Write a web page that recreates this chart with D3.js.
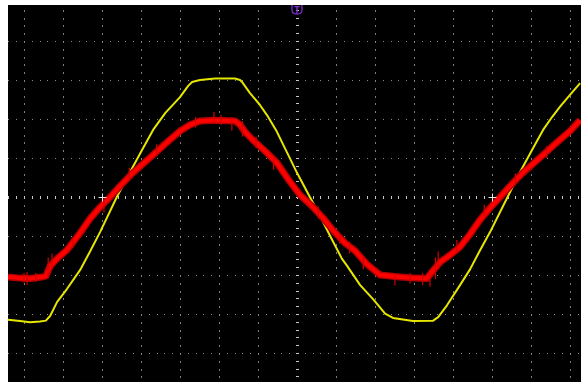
<!DOCTYPE html>
<html>
<head>
<meta charset="utf-8">
<script src="https://cdn.jsdelivr.net/npm/d3@7"></script>
<style>
  html, body { margin: 0; padding: 0; background: #fff; }
  svg { display: block; }
</style>
</head>
<body>
<div id="chart"></div>
<script>
// time in divisions from centre, voltage in divisions from centre
var yellowT = [-7.41, -7.10, -6.85, -6.59, -6.44, -6.33, -6.15, -5.90, -5.56, -5.33, -5.05, -4.62,
  -4.28, -3.97, -3.69, -3.38, -3.00, -2.79, -2.69, -2.49, -2.10, -1.59, -1.46, -1.41, -1.21, -0.95,
  -0.77, -0.54, -0.26, 0.00, 0.33, 0.51, 0.85, 1.15, 1.28, 1.62, 1.95, 2.26, 2.46, 2.97, 3.49, 3.62,
  3.85, 4.18, 4.44, 4.67, 4.95, 5.40, 5.72, 6.03, 6.31, 6.54, 6.74, 7.00, 7.26];
var yellowV = [-3.15, -3.18, -3.21, -3.19, -3.17, -3.05, -2.69, -2.36, -1.87, -1.44, -0.90, 0.00,
  0.64, 1.21, 1.72, 2.15, 2.56, 2.85, 2.95, 3.00, 3.04, 3.04, 3.00, 2.95, 2.67, 2.36,
  2.10, 1.72, 1.15, 0.62, 0.00, -0.33, -1.00, -1.58, -1.76, -2.26, -2.62, -2.99, -3.10, -3.18, -3.17, -3.08,
  -2.77, -2.26, -1.85, -1.41, -0.90, 0.00, 0.64, 1.21, 1.72, 2.05, 2.31, 2.62, 2.92];

var redT = [-7.41, -7.10, -6.85, -6.59, -6.44, -6.33, -6.13, -5.90, -5.56, -5.31, -5.05, -4.79,
  -4.54, -4.21, -3.95, -3.69, -3.38, -3.00, -2.74, -2.49, -2.10, -1.59, -1.46, -1.33, -1.13, -0.82,
  -0.51, -0.23, 0.08, 0.41, 0.67, 0.92, 1.23, 1.49, 1.79, 2.13, 2.64, 3.03, 3.33, 3.46, 3.67, 3.92,
  4.18, 4.44, 4.69, 4.95, 5.21, 5.46, 5.79, 6.05, 6.31, 6.62, 7.00, 7.26];
var redV = [-2.05, -2.08, -2.09, -2.06, -2.03, -1.77, -1.56, -1.36, -0.92, -0.56, -0.26, 0.00,
  0.28, 0.62, 0.85, 1.08, 1.36, 1.69, 1.85, 1.95, 1.97, 1.95, 1.85, 1.67, 1.46, 1.18,
  0.87, 0.46, 0.05, -0.26, -0.54, -0.85, -1.18, -1.38, -1.72, -2.00, -2.05, -2.08, -2.09, -1.92, -1.67, -1.49,
  -1.28, -0.95, -0.59, -0.28, 0.00, 0.28, 0.62, 0.85, 1.08, 1.36, 1.69, 1.97];

// noise spikes seen on the red trace: time, low, high
var redSpikeT = [-7.00, -6.92, -6.70, -6.38, -6.28, -5.75, -4.95, -4.30, -3.60, -2.60, -2.13, -1.95, -1.67, -1.40,
  -1.05, -0.60, 0.55, 1.10, 1.35, 1.70, 2.51, 2.90, 3.22, 3.41, 3.55, 3.62, 4.10, 4.80, 5.60, 6.40];
var redSpikeLo = [-2.20, -2.25, -2.18, -2.05, -1.85, -1.30, -0.40, 0.45, 1.05, 1.78, 1.88, 1.85, 1.70, 1.55,
  1.25, 0.70, -0.55, -1.20, -1.45, -1.85, -2.27, -2.22, -2.25, -2.30, -2.10, -1.85, -1.40, -0.50, 0.30, 1.00];
var redSpikeHi = [-1.95, -1.92, -1.95, -1.55, -1.45, -1.05, -0.10, 0.75, 1.35, 2.05, 2.18, 2.10, 2.05, 1.95,
  1.55, 1.00, -0.25, -0.95, -1.15, -1.50, -2.00, -1.95, -1.95, -1.95, -1.55, -1.40, -1.10, -0.20, 0.60, 1.30];

var cursorT = [-5, 5];

var W = 581, H = 382;
var plotLeft = 8, plotTop = 5;

var svg = d3.select("#chart").append("svg")
  .attr("width", W)
  .attr("height", H);

// scales: 14 x 10 divisions, 39 px each
var x = d3.scaleLinear().domain([-7, 7]).range([24, 570]);
var y = d3.scaleLinear().domain([-5, 5]).range([392, 2]);

svg.append("defs").append("clipPath").attr("id", "plot")
  .append("rect")
  .attr("x", plotLeft).attr("y", plotTop)
  .attr("width", W - plotLeft).attr("height", H - plotTop);

svg.append("rect")
  .attr("x", plotLeft).attr("y", plotTop)
  .attr("width", W - plotLeft).attr("height", H - plotTop)
  .attr("fill", "#000");

var g = svg.append("g").attr("clip-path", "url(#plot)");

// dotted graticule
var minorX = d3.range(-38, 38).map(function(i) { return i * 0.2; });
var minorY = d3.range(-25, 26).map(function(i) { return i * 0.2; });
var majorX = d3.range(-7, 8).filter(function(d) { return d !== 0; });
var majorY = d3.range(-5, 6).filter(function(d) { return d !== 0; });

majorX.forEach(function(xi) {
  g.selectAll(null).data(minorY).enter().append("rect")
    .attr("x", Math.round(x(xi)))
    .attr("y", function(d) { return Math.round(y(d)); })
    .attr("width", 1).attr("height", 2)
    .attr("fill", "#7c7c7c");
});
majorY.forEach(function(yi) {
  g.selectAll(null).data(minorX).enter().append("rect")
    .attr("x", function(d) { return Math.round(x(d)); })
    .attr("y", Math.round(y(yi)))
    .attr("width", 1).attr("height", 1)
    .attr("fill", "#8a8a8a");
});

// centre axes with tick marks
g.selectAll(null).data(minorX).enter().append("rect")
  .attr("x", function(d) { return Math.round(x(d)); })
  .attr("y", Math.round(y(0)) - 1)
  .attr("width", 1).attr("height", 3)
  .attr("fill", "#c8c8c8");
g.selectAll(null).data(minorY).enter().append("rect")
  .attr("x", Math.round(x(0)) - 1)
  .attr("y", function(d) { return Math.round(y(d)); })
  .attr("width", 3).attr("height", 1)
  .attr("fill", "#c8c8c8");

// traces
var line = d3.line()
  .x(function(d) { return x(d[0]); })
  .y(function(d) { return y(d[1]); });

var yellow = d3.zip(yellowT, yellowV);
var red = d3.zip(redT, redV);

g.append("path")
  .datum(yellow)
  .attr("fill", "none")
  .attr("stroke", "#e6e600")
  .attr("stroke-width", 2)
  .attr("stroke-linejoin", "round")
  .attr("d", line);

// red trace: dark fringe of noise, bright core
g.append("path")
  .datum(red)
  .attr("fill", "none")
  .attr("stroke", "#b80000")
  .attr("stroke-width", 7)
  .attr("stroke-linejoin", "round")
  .attr("d", line);

g.append("path")
  .datum(red)
  .attr("fill", "none")
  .attr("stroke", "#ff0000")
  .attr("stroke-width", 4)
  .attr("stroke-linejoin", "round")
  .attr("d", line);

g.selectAll(".spike")
  .data(d3.range(redSpikeT.length))
  .enter().append("line")
  .attr("class", "spike")
  .attr("x1", function(i) { return x(redSpikeT[i]); })
  .attr("x2", function(i) { return x(redSpikeT[i]); })
  .attr("y1", function(i) { return y(redSpikeLo[i]); })
  .attr("y2", function(i) { return y(redSpikeHi[i]); })
  .attr("stroke", "#d00000")
  .attr("stroke-width", 1.2);

// cursor crosses
cursorT.forEach(function(t) {
  var cx = Math.round(x(t)) + 0.5, cy = Math.round(y(0)) + 0.5;
  g.append("path")
    .attr("d", "M" + (cx - 4) + "," + cy + "H" + (cx + 4) + "M" + cx + "," + (cy - 4) + "V" + (cy + 4))
    .attr("stroke", "#e8e8e8")
    .attr("stroke-width", 1);
});

// trigger position marker
var tx = x(0);
svg.append("path")
  .attr("d", "M" + (tx - 5) + "," + plotTop + "V" + (plotTop + 5) +
    "Q" + (tx - 5) + "," + (plotTop + 9) + " " + tx + "," + (plotTop + 9) +
    "Q" + (tx + 5) + "," + (plotTop + 9) + " " + (tx + 5) + "," + (plotTop + 5) + "V" + plotTop)
  .attr("fill", "none")
  .attr("stroke", "#7b2fc8")
  .attr("stroke-width", 1.3);
svg.append("text")
  .attr("x", tx)
  .attr("y", plotTop + 7.5)
  .attr("text-anchor", "middle")
  .attr("font-family", "DejaVu Sans, sans-serif")
  .attr("font-size", 8)
  .attr("font-weight", "bold")
  .attr("fill", "#7b2fc8")
  .text("T");
</script>
</body>
</html>
